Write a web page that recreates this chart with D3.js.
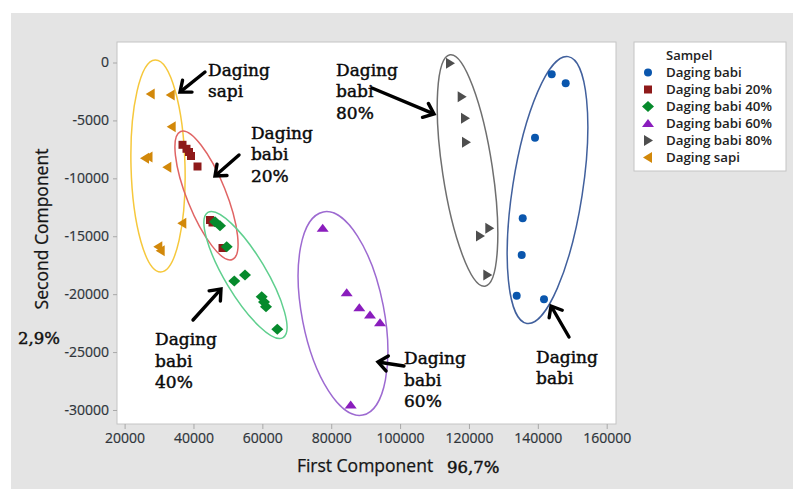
<!DOCTYPE html>
<html>
<head>
<meta charset="utf-8">
<script src="https://cdn.jsdelivr.net/npm/d3@7/dist/d3.min.js"></script>
<style>
  html, body { margin: 0; padding: 0; background: #ffffff; }
  svg { display: block; }
</style>
</head>
<body>
<svg id="chart" width="793" height="489"></svg>
<script>
// ---- Score data (First Component, Second Component) per sample group ----
const groups = ["Daging babi", "Daging babi 20%", "Daging babi 40%", "Daging babi 60%", "Daging babi 80%", "Daging sapi"];

const babiX   = [144030, 148090, 139180, 135610, 135320, 133860, 141790];
const babiY   = [-1018, -1795, -6492, -13450, -16620, -20132, -20443];

const babi20X = [36810, 37970, 38700, 39280, 41170, 44800, 45520, 48430];
const babi20Y = [-7106, -7451, -7726, -8072, -8978, -13597, -13813, -16014];

const babi40X = [46250, 47700, 49650, 54960, 51850, 59810, 60480, 61060, 64340];
const babi40Y = [-13743, -14089, -15902, -18345, -18863, -20218, -20676, -21082, -23033];

const babi60X = [77525, 84495, 88155, 91260, 94165, 85660];
const babi60Y = [-14313, -19873, -21168, -21798, -22463, -29568];

const babi80X = [114490, 117890, 118850, 119140, 123200, 125910, 125330];
const babi80Y = [-69, -2952, -4817, -6889, -14978, -14313, -18345];

const sapiX   = [27580, 33380, 33680, 25920, 26940, 32400, 36750, 29780, 30480];
const sapiY   = [-2719, -2805, -5542, -8270, -8158, -9047, -13882, -15902, -16247];

const xTicks = [20000, 40000, 60000, 80000, 100000, 120000, 140000, 160000];
const yTicks = [0, -5000, -10000, -15000, -20000, -25000, -30000];

// ---- Layout ----
const W = 793, H = 489;
const plot = { left: 117, right: 616, top: 42, bottom: 424 };

const x = d3.scaleLinear().domain([17790, 162700]).range([plot.left, plot.right]);
const y = d3.scaleLinear().domain([1770, -31210]).range([plot.top, plot.bottom]);

const svg = d3.select("#chart");

// grey canvas behind everything
svg.append("rect").attr("x", 11).attr("y", 13).attr("width", W - 11).attr("height", H - 13)
  .attr("fill", "#e4e4e4");

// plot panel
svg.append("rect")
  .attr("x", plot.left).attr("y", plot.top)
  .attr("width", plot.right - plot.left).attr("height", plot.bottom - plot.top)
  .attr("fill", "#ffffff").attr("stroke", "#c4c4c4").attr("stroke-width", 1);

// ---- Axes ----
const tickFont = "'Open Sans', 'Noto Sans', sans-serif";

const xAxis = svg.append("g").attr("transform", `translate(0,${plot.bottom})`)
  .call(d3.axisBottom(x).tickValues(xTicks).tickSize(5).tickPadding(4).tickFormat(d3.format("d")));
const yAxis = svg.append("g").attr("transform", `translate(${plot.left},0)`)
  .call(d3.axisLeft(y).tickValues(yTicks).tickSize(4).tickPadding(4).tickFormat(d3.format("d")));

[xAxis, yAxis].forEach(a => {
  a.select(".domain").remove();
  a.selectAll(".tick line").attr("stroke", "#a8a8a8");
  a.selectAll(".tick text").attr("fill", "#2e343a")
    .style("font-family", tickFont).style("font-size", "14px")
    .attr("stroke", "#2e343a").attr("stroke-width", 0.2);
});
yAxis.selectAll(".tick text").text(d => d === 0 ? "0" : "-" + Math.abs(d));

svg.append("text")
  .attr("x", 365).attr("y", 472)
  .attr("text-anchor", "middle")
  .style("font-family", tickFont).style("font-size", "17.5px").attr("fill", "#151515")
  .attr("stroke", "#151515").attr("stroke-width", 0.25)
  .text("First Component");

svg.append("text")
  .attr("transform", "translate(48,229) rotate(-90)")
  .attr("text-anchor", "middle")
  .style("font-family", tickFont).style("font-size", "17.5px").attr("fill", "#151515")
  .attr("stroke", "#151515").attr("stroke-width", 0.25)
  .text("Second Component");

const serif = "'DejaVu Serif', 'Liberation Serif', serif";
[[447, 473, "96,7%"], [18, 344, "2,9%"]].forEach(([tx, ty, s]) => {
  svg.append("text").attr("x", tx).attr("y", ty)
    .style("font-family", serif).style("font-size", "16.5px")
    .attr("fill", "#111").attr("stroke", "#111").attr("stroke-width", 0.45)
    .text(s);
});

// ---- Group outlines (centre in data units, radii in px, angle in degrees) ----
const outlines = [
  { cx: 29700,  cy: -8935,  rx: 27, ry: 106,   rot: -1.5, color: "#f6c83c" },
  { cx: 43780,  cy: -11480, rx: 19.5, ry: 69,  rot: -22,  color: "#e06464" },
  { cx: 55100,  cy: -18350, rx: 20.5, ry: 73,  rot: -31,  color: "#5fcf8e" },
  { cx: 83420,  cy: -21670, rx: 41,  ry: 103.5, rot: -11, color: "#9d6ad1" },
  { cx: 119580, cy: -9320,  rx: 25,  ry: 117,  rot: -8.6, color: "#6f6f6f" },
  { cx: 142810, cy: -11010, rx: 35,  ry: 135,  rot: 8.8,  color: "#41609d" }
];
svg.append("g").selectAll("ellipse").data(outlines).join("ellipse")
  .attr("transform", d => `translate(${x(d.cx)},${y(d.cy)}) rotate(${d.rot})`)
  .attr("rx", d => d.rx).attr("ry", d => d.ry)
  .attr("fill", "none").attr("stroke", d => d.color).attr("stroke-width", 1.5);

// ---- Marker shapes ----
const shapes = {
  circle:   "M0,-4A4,4 0 1,1 0,4A4,4 0 1,1 0,-4Z",
  square:   "M-4,-4H4V4H-4Z",
  diamond:  "M0,-5.5L6,0L0,5.5L-6,0Z",
  triUp:    "M0,-4.5L6,3.5L-6,3.5Z",
  triRight: "M5,0L-4,-5.5L-4,5.5Z",
  triLeft:  "M-5,0L4,-5.5L4,5.5Z"
};

const series = [
  { name: groups[0], xs: babiX,   ys: babiY,   shape: shapes.circle,   color: "#0a56ad" },
  { name: groups[1], xs: babi20X, ys: babi20Y, shape: shapes.square,   color: "#8e1a1a" },
  { name: groups[2], xs: babi40X, ys: babi40Y, shape: shapes.diamond,  color: "#068a2c" },
  { name: groups[3], xs: babi60X, ys: babi60Y, shape: shapes.triUp,    color: "#8a1dbd" },
  { name: groups[4], xs: babi80X, ys: babi80Y, shape: shapes.triRight, color: "#4e4e4e" },
  { name: groups[5], xs: sapiX,   ys: sapiY,   shape: shapes.triLeft,  color: "#d2880a" }
];

// draw order so the 40% diamonds sit above the 20% squares
const drawOrder = [5, 0, 3, 4, 1, 2];
drawOrder.forEach(i => {
  const s = series[i];
  const pts = s.xs.map((v, k) => [v, s.ys[k]]);
  svg.append("g").selectAll("path").data(pts).join("path")
    .attr("d", s.shape)
    .attr("transform", d => `translate(${x(d[0])},${y(d[1])})`)
    .attr("fill", s.color);
});

// ---- Annotations: labels and arrows (positions in data units) ----
const labels = [
  { x: 44220,  y: -1165,  lines: ["Daging", "sapi"] },
  { x: 56700,  y: -6600,  lines: ["Daging", "babi", "20%"] },
  { x: 81390,  y: -1165,  lines: ["Daging", "babi", "80%"] },
  { x: 28830,  y: -24390, lines: ["Daging", "babi", "40%"] },
  { x: 101140, y: -26030, lines: ["Daging", "babi", "60%"] },
  { x: 139470, y: -25940, lines: ["Daging", "babi"] }
];
const lab = svg.append("g")
  .style("font-family", serif).style("font-size", "17px")
  .attr("fill", "#0a0a0a").attr("stroke", "#0a0a0a").attr("stroke-width", 0.45);
labels.forEach(l => {
  const t = lab.append("text").attr("x", x(l.x)).attr("y", y(l.y));
  l.lines.forEach((s, i) => t.append("tspan").attr("x", x(l.x)).attr("dy", i === 0 ? 0 : 21.5).text(s));
});

const arrows = [
  { x1: 43345,  y1: -820,   x2: 36085,  y2: -2547 },
  { x1: 53220,  y1: -7985,  x2: 46250,  y2: -9798 },
  { x1: 39860,  y1: -22230, x2: 47990,  y2: -19553 },
  { x1: 91840,  y1: -2201,  x2: 109850, y2: -4446 },
  { x1: 101130, y1: -26200, x2: 93580,  y2: -25856 },
  { x1: 149050, y1: -23700, x2: 143830, y2: -21020 }
];
const arr = svg.append("g").attr("stroke", "#000").attr("fill", "none")
  .attr("stroke-width", 3.4).attr("stroke-linecap", "round").attr("stroke-linejoin", "miter");
arrows.forEach(a => {
  const X1 = x(a.x1), Y1 = y(a.y1), X2 = x(a.x2), Y2 = y(a.y2);
  const ang = Math.atan2(Y2 - Y1, X2 - X1);
  const len = 12, spread = Math.PI / 4.6;
  arr.append("line").attr("x1", X1).attr("y1", Y1).attr("x2", X2 - Math.cos(ang) * 1.5).attr("y2", Y2 - Math.sin(ang) * 1.5);
  arr.append("path").attr("d",
    `M${X2 - len * Math.cos(ang - spread)},${Y2 - len * Math.sin(ang - spread)}` +
    `L${X2},${Y2}` +
    `L${X2 - len * Math.cos(ang + spread)},${Y2 - len * Math.sin(ang + spread)}`);
});

// ---- Legend ----
const lg = svg.append("g");
lg.append("rect").attr("x", 634).attr("y", 42).attr("width", 152).attr("height", 129)
  .attr("fill", "#ffffff").attr("stroke", "#c4c4c4");
lg.append("text").attr("x", 666).attr("y", 60)
  .style("font-family", tickFont).style("font-size", "13px").style("font-weight", "600")
  .attr("fill", "#222").text("Sampel");
series.forEach((s, i) => {
  const cy = 72.5 + i * 17;
  lg.append("path").attr("d", s.shape).attr("transform", `translate(648,${cy})`).attr("fill", s.color);
  lg.append("text").attr("x", 666).attr("y", cy + 4.5)
    .style("font-family", tickFont).style("font-size", "13.3px").style("font-weight", "600")
    .attr("fill", "#222").text(s.name);
});
</script>
</body>
</html>
